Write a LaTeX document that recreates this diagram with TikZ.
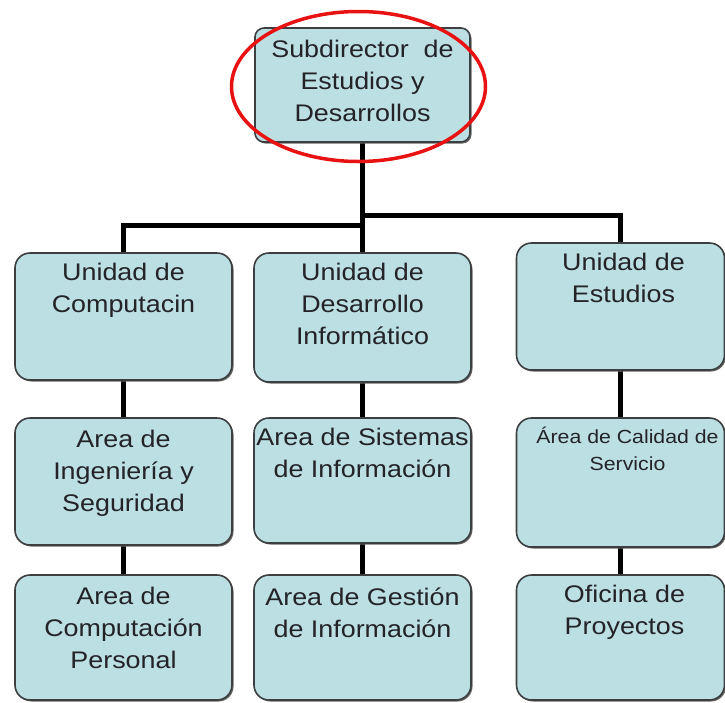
\documentclass[tikz,border=0pt]{standalone}
\usepackage{fontspec}
\setmainfont{Liberation Sans}[FakeStretch=1.12]
\usetikzlibrary{shadows,backgrounds}
\definecolor{boxfill}{RGB}{187,223,227}
\definecolor{boxline}{RGB}{60,62,64}
\definecolor{txtcol}{RGB}{35,35,40}
\definecolor{ovalred}{RGB}{232,18,18}
\begin{document}
\begin{tikzpicture}[x=1pt,y=-1pt,
  box/.style={draw=boxline, line width=1.6pt, fill=boxfill, rounded corners=15pt,
    inner sep=0pt, drop shadow={shadow xshift=1.5pt, shadow yshift=-1.5pt, fill=black!60, opacity=1}},
  lbl/.style={anchor=north, align=center, inner sep=0pt, font=\fontsize{24}{32}\selectfont, text=txtcol},
  small/.style={font=\fontsize{19}{27}\selectfont},
  conn/.style={line width=5pt, black},
  oval/.style={draw=ovalred, line width=3.5pt}]
\useasboundingbox (0,0) rectangle (725,702);

% boxes
\node[box, minimum width=215pt, minimum height=114pt, rounded corners=9pt] (top) at (362.5,85) {};
\node[box, minimum width=217pt, minimum height=127pt] (c1) at (123.5,316.5) {};
\node[box, minimum width=217pt, minimum height=129pt] (c2) at (362.5,317.5) {};
\node[box, minimum width=208pt, minimum height=127pt] (c3) at (620.5,306.5) {};
\node[box, minimum width=217pt, minimum height=127pt] (a1) at (123.5,481.5) {};
\node[box, minimum width=217pt, minimum height=125pt] (a2) at (362.5,480.5) {};
\node[box, minimum width=208pt, minimum height=129pt] (a3) at (620.5,482.5) {};
\node[box, minimum width=217pt, minimum height=125pt] (b1) at (123.5,637.5) {};
\node[box, minimum width=217pt, minimum height=125pt] (b2) at (362.5,637.5) {};
\node[box, minimum width=208pt, minimum height=125pt] (b3) at (620.5,637.5) {};

\coordinate (jr) at (362.5,215);
\coordinate (jl) at (362.5,225);

% connectors behind the boxes
\begin{scope}[on background layer]
\draw[conn] (top.south) -- (c2.north);
\draw[conn] (jr) -| (c3.north);
\draw[conn] (jl) -| (c1.north);
\draw[conn] (c1.south) -- (a1.north);
\draw[conn] (a1.south) -- (b1.north);
\draw[conn] (c2.south) -- (a2.north);
\draw[conn] (a2.south) -- (b2.north);
\draw[conn] (c3.south) -- (a3.north);
\draw[conn] (a3.south) -- (b3.north);
\end{scope}

% texts
\node[lbl] (ttop) at ([yshift=-13pt]top.north) {Subdirector~ de\\Estudios y\\Desarrollos};
\node[lbl] (tc1) at ([yshift=-11pt]c1.north) {Unidad de\\Computacin};
\node[lbl] (tc2) at ([yshift=-11pt]c2.north) {Unidad de\\Desarrollo\\Informático};
\node[lbl] (tc3) at ([xshift=3pt,yshift=-11pt]c3.north) {Unidad de\\Estudios};
\node[lbl] (ta1) at ([yshift=-13pt]a1.north) {Area de\\Ingeniería y\\Seguridad};
\node[lbl] (ta2) at ([yshift=-11pt]a2.north) {Area de Sistemas\\de Información};
\node[lbl, small] (ta3) at ([xshift=7pt,yshift=-10pt]a3.north) {Área de Calidad de\\Servicio};
\node[lbl] (tb1) at ([yshift=-13pt]b1.north) {Area de\\Computación\\Personal};
\node[lbl] (tb2) at ([yshift=-13pt]b2.north) {Area de Gestión\\de Información};
\node[lbl] (tb3) at ([xshift=4pt,yshift=-11pt]b3.north) {Oficina de\\Proyectos};

% red oval
\draw[oval] (358.5,86.5) ellipse [x radius=127, y radius=75];
\end{tikzpicture}
\end{document}
